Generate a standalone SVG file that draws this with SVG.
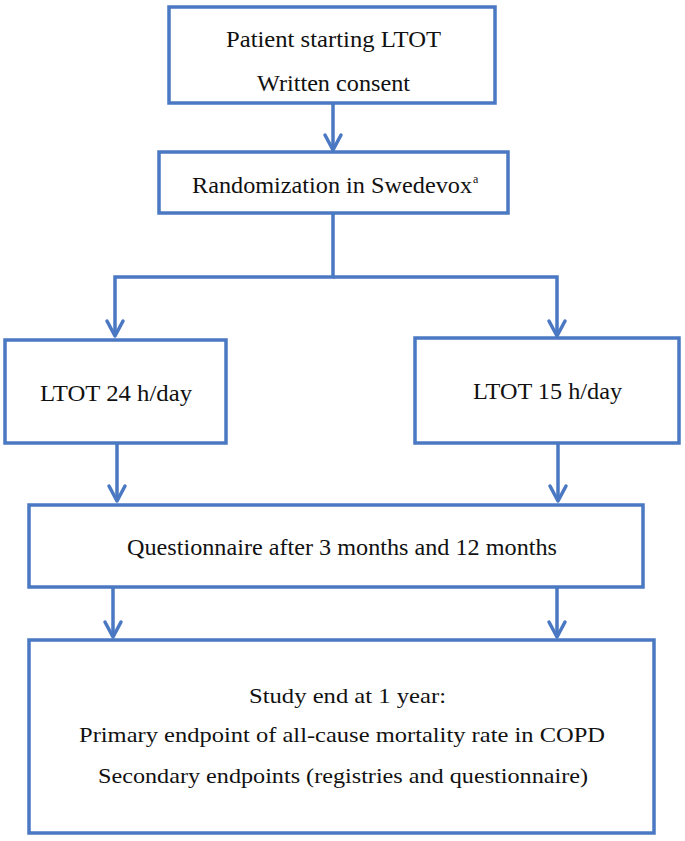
<svg xmlns="http://www.w3.org/2000/svg" width="685" height="841" viewBox="0 0 685 841">
<style>
.box{fill:#ffffff;stroke:#4a78c2;stroke-width:3.5}
.ln{fill:none;stroke:#4a78c2;stroke-width:3.5;stroke-linejoin:miter}
.ah{fill:none;stroke:#4a78c2;stroke-width:3.5;stroke-linecap:round;stroke-linejoin:round}
text{font-family:'Liberation Serif','Times New Roman',Times,serif;fill:#111111}
</style>
<rect width="685" height="841" fill="#ffffff"/>
<g id="connectors">
<path class="ln" d="M333,103 V150"/>
<path class="ah" d="M325,135 L333,150 L341,135"/>
<path class="ln" d="M333,213 V277 H115 V336"/>
<path class="ln" d="M333,277 H557 V336"/>
<path class="ah" d="M107,321 L115,336 L123,321"/>
<path class="ah" d="M549,321 L557,336 L565,321"/>
<path class="ln" d="M117,443 V501"/>
<path class="ah" d="M109,486 L117,501 L125,486"/>
<path class="ln" d="M558,443 V501"/>
<path class="ah" d="M550,486 L558,501 L566,486"/>
<path class="ln" d="M113,587 V637"/>
<path class="ah" d="M105,622 L113,637 L121,622"/>
<path class="ln" d="M557,587 V637"/>
<path class="ah" d="M549,622 L557,637 L565,622"/>
</g>
<g id="n1">
<rect class="box" x="169" y="7" width="326" height="96"/>
<text x="226" y="47" font-size="24" textLength="215" lengthAdjust="spacingAndGlyphs">Patient starting LTOT</text>
<text x="257" y="91" font-size="24" textLength="153" lengthAdjust="spacingAndGlyphs">Written consent</text>
</g>
<g id="n2">
<rect class="box" x="159" y="152" width="349" height="61"/>
<text x="192" y="193" font-size="24" textLength="280" lengthAdjust="spacingAndGlyphs">Randomization in Swedevox</text>
<text x="473" y="183" font-size="12">a</text>
</g>
<g id="n3">
<rect class="box" x="5" y="340" width="221" height="103"/>
<text x="40" y="401" font-size="24" textLength="152" lengthAdjust="spacingAndGlyphs">LTOT 24 h/day</text>
</g>
<g id="n4">
<rect class="box" x="415" y="338" width="264" height="105"/>
<text x="473" y="399" font-size="24" textLength="149" lengthAdjust="spacingAndGlyphs">LTOT 15 h/day</text>
</g>
<g id="n5">
<rect class="box" x="29" y="505" width="614" height="82"/>
<text x="127" y="555" font-size="24" textLength="430" lengthAdjust="spacingAndGlyphs">Questionnaire after 3 months and 12 months</text>
</g>
<g id="n6">
<rect class="box" x="29" y="640" width="625" height="193"/>
<text x="249" y="703" font-size="22" textLength="197" lengthAdjust="spacingAndGlyphs">Study end at 1 year:</text>
<text x="79" y="742" font-size="22" textLength="526" lengthAdjust="spacingAndGlyphs">Primary endpoint of all-cause mortality rate in COPD</text>
<text x="98" y="783" font-size="22" textLength="490" lengthAdjust="spacingAndGlyphs">Secondary endpoints (registries and questionnaire)</text>
</g>
</svg>
